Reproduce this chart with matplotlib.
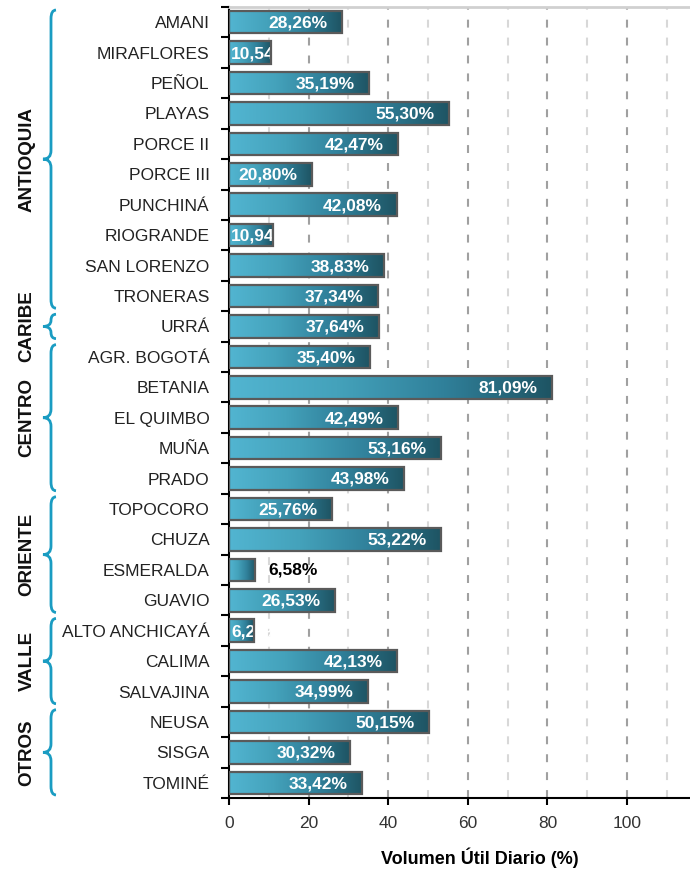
import numpy as np
import matplotlib
matplotlib.use("Agg")
import matplotlib.pyplot as plt
import matplotlib.transforms as mtransforms
from matplotlib.patches import Rectangle, PathPatch
from matplotlib.path import Path
from matplotlib.colors import LinearSegmentedColormap

plt.rcParams['font.family'] = ['Liberation Sans', 'DejaVu Sans']

embalses = ["AMANI", "MIRAFLORES", "PEÑOL", "PLAYAS", "PORCE II", "PORCE III",
            "PUNCHINÁ", "RIOGRANDE", "SAN LORENZO", "TRONERAS", "URRÁ",
            "AGR. BOGOTÁ", "BETANIA", "EL QUIMBO", "MUÑA", "PRADO",
            "TOPOCORO", "CHUZA", "ESMERALDA", "GUAVIO",
            "ALTO ANCHICAYÁ", "CALIMA", "SALVAJINA",
            "NEUSA", "SISGA", "TOMINÉ"]
volumen = [28.26, 10.54, 35.19, 55.30, 42.47, 20.80, 42.08, 10.94, 38.83, 37.34,
           37.64, 35.40, 81.09, 42.49, 53.16, 43.98, 25.76, 53.22, 6.58, 26.53,
           6.27, 42.13, 34.99, 50.15, 30.32, 33.42]
regiones = ["ANTIOQUIA", "CARIBE", "CENTRO", "ORIENTE", "VALLE", "OTROS"]
n_por_region = [10, 1, 5, 4, 3, 3]
etiqueta_fuera = ["ESMERALDA"]

W, H = 690, 872
fig = plt.figure(figsize=(W / 100, H / 100), dpi=100)
ax = fig.add_axes([229 / W, 1 - 798 / H, 1 - 229 / W, (798 - 7) / H])
# ejes y etiquetas por encima de las barras/etiquetas blancas
ax.set_axisbelow(False)

cmap = LinearSegmentedColormap.from_list("barra", ["#52b5d1", "#44a2bb", "#30809a", "#1e5463"])
grad = np.linspace(0, 1, 256).reshape(1, -1)
bar_h = 0.74
n = len(embalses)

ax.set_xlim(0, 115.8)
ax.set_ylim(n - 0.5, -0.5)
renderer = fig.canvas.get_renderer()

for i, (nom, v) in enumerate(zip(embalses, volumen)):
    ax.imshow(grad, extent=[0, v, i + bar_h / 2, i - bar_h / 2], aspect='auto',
              cmap=cmap, interpolation='bilinear', zorder=2)
    rect = Rectangle((0, i - bar_h / 2), v, bar_h, facecolor='none',
                     edgecolor='#5a5a5a', lw=1.6, zorder=3)
    ax.add_patch(rect)
    txt = f"{v:.2f}".replace('.', ',') + "%"
    if nom in etiqueta_fuera:
        ax.text(v + 3.2, i, txt, ha='left', va='center', fontsize=12.5,
                fontweight='bold', color='black', zorder=4)
    else:
        t = ax.text(v - 11, i + 0.03, txt, ha='center', va='center', fontsize=12.5,
                    fontweight='bold', color='white', zorder=2.2)
        # no dejar que la etiqueta salga por la izquierda del eje
        bb = t.get_window_extent(renderer).transformed(ax.transData.inverted())
        w = abs(bb.x1 - bb.x0)
        if v - 11 - w / 2 < 0.5:
            t.set_x(w / 2 + 0.5)
        caja = mtransforms.TransformedBbox(
            mtransforms.Bbox([[0, i - bar_h / 2], [v, i + bar_h / 2]]), ax.transData)
        t.set_clip_box(caja)

ax.set_xlim(0, 115.8)
ax.set_ylim(n - 0.5, -0.5)

# grid
for x in range(10, 116, 10):
    if x % 20 == 0:
        ax.axvline(x, color='#a0a0a0', lw=1.5, ls=(0, (3.8, 4.8)), zorder=1)
    else:
        ax.axvline(x, color='#d8d8d8', lw=1.5, ls=(0, (3.8, 4.8)), zorder=1)

ax.set_xticks([0, 20, 40, 60, 80, 100])
ax.tick_params(axis='x', length=5, width=1.5, direction='out', labelsize=12.5,
               labelcolor='#333333', pad=8)
ax.set_yticks(range(n))
ax.set_yticklabels(embalses)
ax.tick_params(axis='y', length=0, labelsize=12.5, pad=14, labelcolor='#222222')
ax.set_yticks(np.arange(-0.5, n, 1), minor=True)
ax.tick_params(axis='y', which='minor', length=6, width=1.5, direction='out')

ax.spines['right'].set_visible(False)
ax.spines['top'].set_color('#d0d0d0')
ax.spines['top'].set_linewidth(2)
ax.spines['left'].set_linewidth(1.5)
ax.spines['bottom'].set_linewidth(1.5)

ax.set_xlabel("Volumen Útil Diario (%)", fontsize=13, fontweight='bold')
ax.xaxis.set_label_coords(0.545, -0.062)

# llaves de región
trans = mtransforms.blended_transform_factory(fig.transFigure, ax.transData)
x_line, x_tip, x_end = 51 / W, 43 / W, 56 / W
start = 0
for reg, cnt in zip(regiones, n_por_region):
    top = start - 0.5 + 0.1
    bot = start + cnt - 0.5 - 0.1
    mid = (top + bot) / 2
    r = min(0.28, (bot - top) / 4)
    verts = [(x_end, top), (x_line, top), (x_line, top + r),
             (x_line, mid - r), (x_line, mid), (x_tip, mid),
             (x_line, mid), (x_line, mid + r),
             (x_line, bot - r), (x_line, bot), (x_end, bot)]
    codes = [Path.MOVETO, Path.CURVE3, Path.CURVE3,
             Path.LINETO, Path.CURVE3, Path.CURVE3,
             Path.CURVE3, Path.CURVE3,
             Path.LINETO, Path.CURVE3, Path.CURVE3]
    patch = PathPatch(Path(verts, codes), transform=trans, facecolor='none',
                      edgecolor='#1a9cc2', lw=2, clip_on=False)
    ax.add_patch(patch)
    ax.text(27 / W, mid, reg, transform=trans, rotation=90, ha='center', va='center',
            fontsize=13.5, fontweight='bold', color='#111111')
    start += cnt

fig.savefig("out.png", dpi=100)
